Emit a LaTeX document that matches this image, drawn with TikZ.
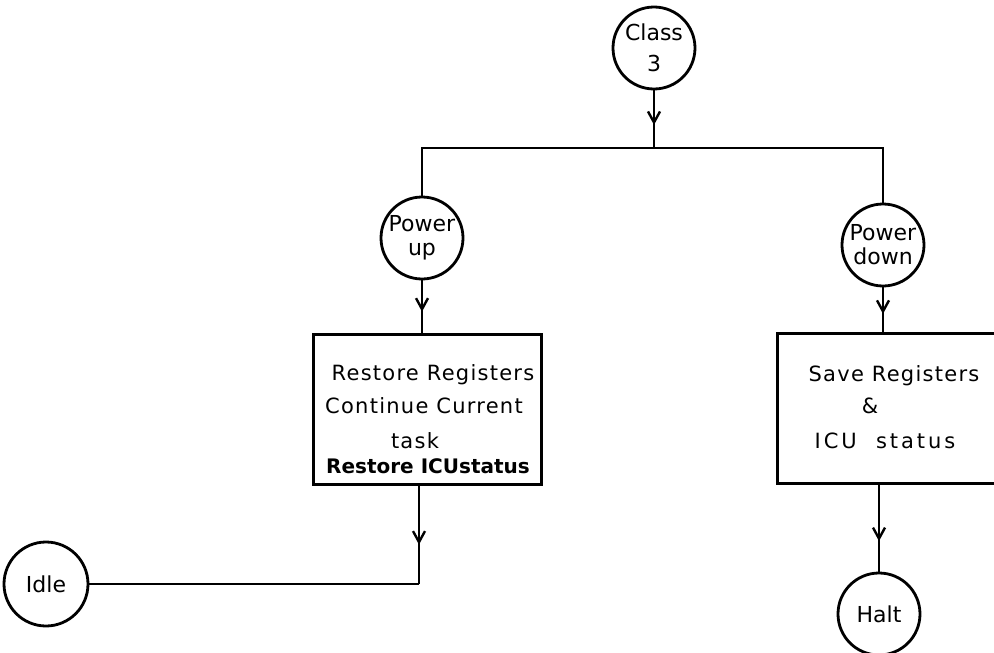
\documentclass[tikz,border=0pt]{standalone}
\usepackage{fontspec}
\setmainfont{DejaVu Sans}
\newfontfamily\boxfont[LetterSpace=6]{DejaVu Sans}
\newfontfamily\widefont[LetterSpace=14]{DejaVu Sans}
\usetikzlibrary{arrows.meta,decorations.markings}
\tikzset{
  state/.style={circle,draw,line width=2.8pt,minimum size=82pt,inner sep=0pt,align=center,
    font=\fontsize{22}{24}\selectfont},
  boxshape/.style={draw,line width=3pt,inner sep=0pt},
  txt/.style={anchor=base,inner sep=0pt,font=\boxfont\fontsize{21}{24}\selectfont},
  conn/.style={line width=2.6pt},
  midarrow/.style={postaction={decorate},decoration={markings,
    mark=at position #1 with {\arrow[line width=2.4pt]{Straight Barb[length=11pt,width=12pt]}}}},
}
\begin{document}
\begin{tikzpicture}[x=1pt,y=-1pt]
\useasboundingbox (0,0) rectangle (994,653);
\clip (0,0) rectangle (994,653);

% states
\node[state,font=\fontsize{22}{31}\selectfont] (class) at (654,48) {Class\\3};
\node[state] (pup) at (422,238) {Power\\up};
\node[state] (pdown) at (883,245) {Power\\down};
\node[state,minimum size=84pt] (idle) at (46,584) {Idle};
\node[state] (halt) at (879,614) {Halt};

% boxes
\node[boxshape,minimum width=228pt,minimum height=150pt] (lbox) at (427,409) {};
\node[boxshape,minimum width=228pt,minimum height=150pt] (rbox) at (891,408) {};

% box texts
\node[txt] (t1) at (433,380) {Restore Registers};
\node[txt] (t2) at (424,413) {Continue Current};
\node[txt] (t3) at (415,448) {task};
\node[txt,font=\bfseries\fontsize{20}{24}\selectfont] (t4) at (428,473) {Restore ICUstatus};
\node[txt] (t5) at (894,381) {Save Registers};
\node[txt] (t6) at (870,413) {\&};
\node[txt,font=\widefont\fontsize{21}{24}\selectfont] (t7) at (885,448) {ICU\ \ status};

% connectors
\coordinate (jc) at (654,148);
\coordinate (jl) at (422,148);
\coordinate (jr) at (883,148);
\coordinate (ci) at (419,584);

\draw[conn,midarrow=0.6] (class.south) -- (jc);
\draw[conn] (pup.north) -- (jl) -- (jr) -- (pdown.north);
\draw[conn,midarrow=0.6] (pup.south) -- (pup.south |- lbox.north);
\draw[conn,midarrow=0.6] (pdown.south) -- (pdown.south |- rbox.north);
\draw[conn,midarrow=0.6] (lbox.south -| ci) -- (ci);
\draw[conn] (ci) -- (idle.east);
\draw[conn,midarrow=0.65] (rbox.south -| halt) -- (halt.north);
\end{tikzpicture}
\end{document}
